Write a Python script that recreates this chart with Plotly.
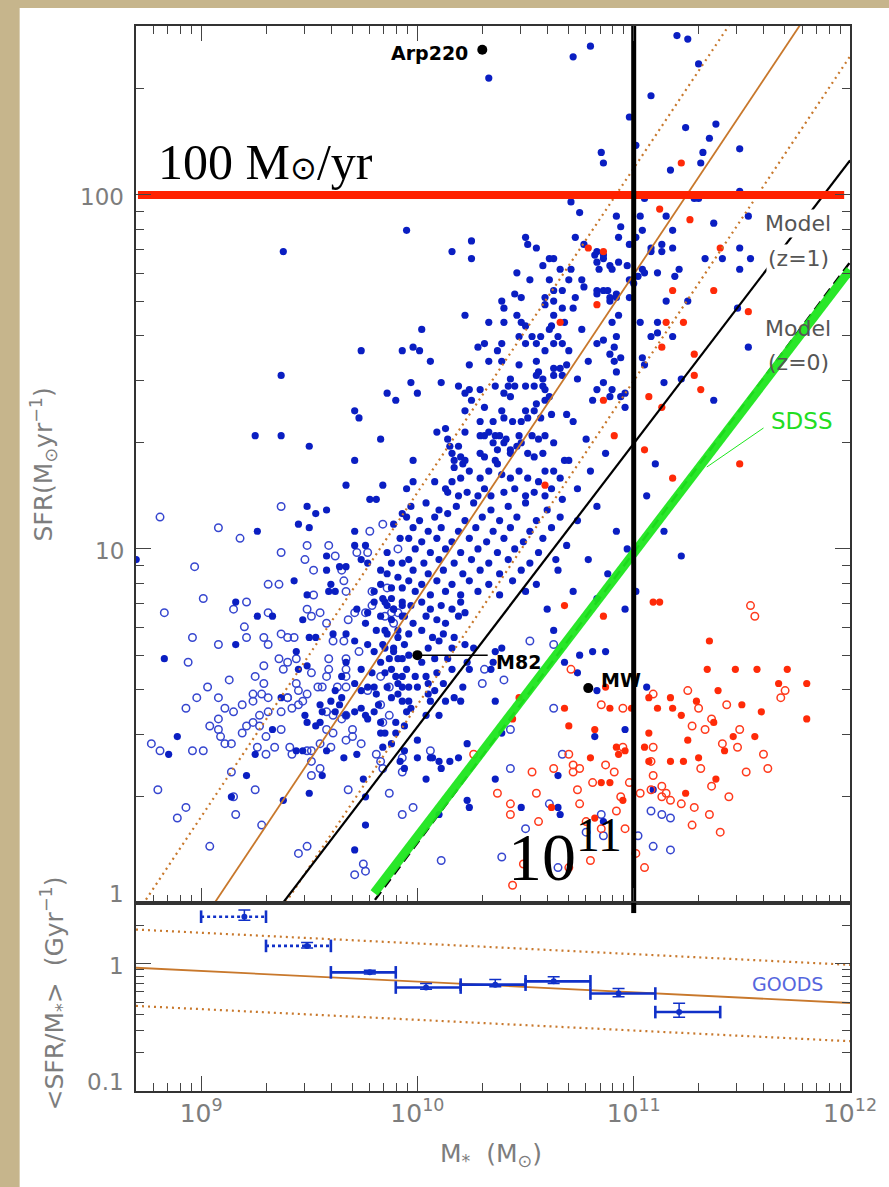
import math
import plotly.graph_objects as go

# ------------------------------------------------------------------
# Galaxy sample: (log10 M* [Msun], log10 SFR [Msun/yr])
# ------------------------------------------------------------------
blue_solid = [
    (9.25, 1.32), (9.37, 1.32), (9.50, 1.29), (9.83, 1.31), (9.71, 1.25), (9.67, 1.18), (9.84, 1.18),
    (9.78, 1.14), (9.81, 1.14), (9.49, 1.12), (9.58, 1.11), (9.53, 1.10), (9.45, 1.07), (9.50, 1.06),
    (9.26, 1.05), (9.71, 1.05), (8.70, 0.97), (9.58, 0.98), (9.58, 0.94), (9.64, 0.95), (9.67, 0.95),
    (9.43, 0.91), (9.60, 0.90), (9.49, 0.87), (9.59, 0.88), (9.62, 0.88), (9.16, 0.85), (9.26, 0.81),
    (9.33, 0.81), (9.47, 0.80), (9.16, 0.73), (9.44, 0.71), (8.83, 0.69), (9.50, 0.75), (9.53, 0.75),
    (9.61, 0.76), (9.45, 0.66), (9.37, 0.58), (9.49, 0.67), (9.65, 0.64),
    (9.71, 1.01), (9.76, 1.01), (9.74, 0.97), (9.77, 0.96), (9.86, 0.99), (9.88, 0.96), (9.93, 0.96),
    (9.92, 1.03), (9.89, 1.07), (9.93, 1.10), (9.83, 0.94), (9.86, 0.93), (9.91, 0.92), (9.83, 0.90),
    (9.88, 0.89), (9.93, 0.89), (9.80, 0.88), (9.84, 0.86), (9.88, 0.86), (9.93, 0.85), (9.72, 0.83),
    (9.77, 0.82), (9.80, 0.85), (9.86, 0.84), (9.89, 0.83), (9.93, 0.81), (9.76, 0.79), (9.81, 0.77),
    (9.86, 0.76), (9.91, 0.75), (9.67, 0.76), (9.71, 0.74), (9.77, 0.73), (9.80, 0.71), (9.85, 0.72),
    (9.89, 0.71), (9.93, 0.69), (9.67, 0.68), (9.74, 0.66), (9.79, 0.65), (9.83, 0.68), (9.88, 0.66),
    (9.93, 0.64), (9.71, 0.62), (9.77, 0.61), (9.81, 0.59), (9.88, 0.58), (9.65, 0.58), (9.62, 0.60),
    (9.60, 0.57),
    (8.89, 0.47), (8.85, 0.42), (9.21, 0.36), (9.14, 0.30), (9.25, 0.42), (9.33, 0.49), (9.38, 0.29),
    (9.48, 0.53), (9.49, 0.51), (9.53, 0.50), (9.55, 0.51), (9.55, 0.56), (9.56, 0.54), (9.62, 0.54),
    (9.64, 0.56), (9.67, 0.53), (9.71, 0.54), (9.74, 0.55), (9.76, 0.53), (9.77, 0.52), (9.80, 0.54),
    (9.82, 0.56), (9.44, 0.43), (9.47, 0.43), (9.58, 0.43), (9.56, 0.36), (9.50, 0.31), (9.66, 0.41),
    (9.72, 0.42), (9.75, 0.35), (9.76, 0.30), (9.76, 0.22), (9.71, 0.15), (9.83, 0.48), (9.84, 0.44),
    (9.88, 0.45), (9.90, 0.48), (9.94, 0.50), (9.94, 0.43), (10.00, 0.41), (10.00, 0.46), (10.04, 0.35),
    (10.07, 0.41), (9.93, 0.61), (9.93, 0.57), (9.95, 0.54), (9.97, 0.55), (9.80, 0.61), (9.74, 0.60),
    (10.05, 0.59), (10.05, 0.62),
    (9.95, 1.90), (10.25, 1.87), (10.16, 1.84), (10.25, 1.82), (10.50, 1.88), (10.51, 1.86), (10.55, 1.85),
    (10.61, 1.82), (10.63, 1.82), (10.58, 1.80), (10.66, 1.79), (10.46, 1.78), (10.52, 1.76), (10.61, 1.76),
    (10.63, 1.73), (10.45, 1.72), (10.48, 1.71), (10.59, 1.71), (10.63, 1.70), (10.39, 1.70), (10.40, 1.68),
    (10.59, 1.69), (10.67, 1.68), (10.22, 1.66), (10.33, 1.64), (10.40, 1.64), (10.46, 1.66), (10.48, 1.64),
    (10.50, 1.63), (10.63, 1.66), (10.62, 1.63), (10.68, 1.64), (10.02, 1.62), (10.47, 1.60), (10.53, 1.60),
    (10.57, 1.60), (10.61, 1.62), (10.65, 1.60), (10.67, 1.58), (10.63, 1.58), (10.28, 1.57), (10.31, 1.58),
    (10.39, 1.58), (10.37, 1.56), (10.50, 1.58), (10.55, 1.58), (10.59, 1.56), (9.74, 1.56), (9.93, 1.56),
    (9.98, 1.57), (10.01, 1.56), (10.06, 1.53), (10.24, 1.52), (10.33, 1.53), (10.39, 1.53), (10.47, 1.52),
    (10.55, 1.53), (10.63, 1.51), (10.66, 1.51), (10.56, 1.50), (10.55, 1.49), (10.58, 1.48), (10.54, 1.46),
    (10.58, 1.46), (10.59, 1.45), (10.63, 1.49), (10.67, 1.49), (10.69, 1.52), (9.97, 1.47), (10.11, 1.47),
    (10.19, 1.46), (10.29, 1.45), (10.36, 1.46), (10.43, 1.48), (10.42, 1.46), (10.45, 1.46), (10.40, 1.44),
    (10.50, 1.46), (9.86, 1.44), (10.00, 1.44), (9.90, 1.42), (10.24, 1.45), (10.22, 1.44), (10.25, 1.42),
    (10.31, 1.40), (10.43, 1.43), (10.59, 1.42), (10.61, 1.43), (10.55, 1.41), (10.54, 1.39), (10.69, 1.38),
    (9.71, 1.39), (9.73, 1.37), (10.22, 1.39), (10.29, 1.36), (10.35, 1.36), (10.39, 1.39), (10.40, 1.37),
    (10.44, 1.36), (10.48, 1.36), (10.50, 1.39), (10.51, 1.37), (10.57, 1.37), (10.62, 1.38),
    (9.95, 1.17), (9.98, 1.25), (9.98, 1.19), (10.09, 1.33), (10.14, 1.31), (10.13, 1.34), (10.15, 1.29),
    (10.16, 1.27), (10.19, 1.29), (10.20, 1.26), (10.17, 1.25), (10.22, 1.25), (10.21, 1.24), (10.22, 1.33),
    (10.29, 1.32), (10.31, 1.32), (10.33, 1.33), (10.36, 1.32), (10.38, 1.32), (10.41, 1.31), (10.47, 1.32),
    (10.35, 1.30), (10.37, 1.28), (10.40, 1.30), (10.43, 1.28), (10.46, 1.29), (10.48, 1.30), (10.53, 1.32),
    (10.56, 1.31), (10.59, 1.32), (10.63, 1.30), (10.29, 1.27), (10.31, 1.26), (10.36, 1.25), (10.43, 1.27),
    (10.51, 1.27), (10.54, 1.26), (10.58, 1.27), (10.17, 1.23), (10.20, 1.20), (10.24, 1.22), (10.29, 1.20),
    (10.33, 1.22), (10.37, 1.24), (10.39, 1.21), (10.43, 1.20), (10.47, 1.22), (10.51, 1.20), (10.56, 1.19),
    (10.59, 1.22), (10.63, 1.22), (10.66, 1.20), (10.68, 1.25), (10.08, 1.19), (10.13, 1.17), (10.16, 1.19),
    (10.14, 1.16), (10.19, 1.15), (10.23, 1.16), (10.28, 1.15), (10.31, 1.17), (10.34, 1.15), (10.40, 1.16),
    (10.45, 1.17), (10.50, 1.15), (10.54, 1.16), (10.62, 1.17), (10.59, 1.15),
    (10.80, 2.42), (10.72, 2.39), (10.33, 2.33), (11.08, 2.28), (10.98, 2.22), (11.01, 2.14), (10.85, 2.12),
    (10.86, 2.09), (10.71, 1.98), (10.75, 1.95), (11.05, 1.99), (10.92, 1.94), (10.94, 1.91), (11.03, 1.94),
    (11.04, 1.90), (10.93, 1.88), (10.98, 1.86), (11.01, 1.88), (10.73, 1.88), (10.77, 1.86), (10.82, 1.83),
    (10.86, 1.83), (10.89, 1.80), (10.90, 1.79), (10.83, 1.81), (10.84, 1.79), (10.93, 1.81), (10.97, 1.80),
    (11.04, 1.79), (11.05, 1.78), (11.11, 1.78), (11.08, 1.84), (11.13, 1.84), (11.13, 1.86), (10.71, 1.79),
    (10.70, 1.76), (10.76, 1.76), (10.77, 1.74), (10.98, 1.76), (11.02, 1.77), (11.00, 1.75), (10.83, 1.73),
    (10.86, 1.73), (10.88, 1.73), (10.89, 1.71), (10.92, 1.71), (10.98, 1.71), (10.67, 1.73), (10.73, 1.71),
    (11.20, 2.45), (11.25, 2.44), (11.30, 2.37), (11.24, 2.19), (11.38, 2.20), (11.35, 2.16), (11.32, 2.12),
    (11.31, 2.09), (11.49, 2.13), (11.17, 2.07), (11.28, 1.99), (11.30, 1.99), (11.49, 2.01), (11.53, 1.94),
    (11.15, 1.94), (11.18, 1.90), (11.37, 1.92), (11.08, 1.85), (11.18, 1.85), (11.49, 1.85),
    (11.33, 1.82), (11.41, 1.82), (11.54, 1.82), (11.49, 1.79), (11.21, 1.79), (11.19, 1.77), (10.83, 1.84),
    (10.86, 1.82), (10.92, 1.72), (10.83, 1.72), (11.15, 1.70), (11.25, 1.70), (11.48, 1.68), (11.53, 1.57),
    (10.89, 1.70), (10.90, 1.64), (10.93, 1.66), (11.03, 1.64), (11.11, 1.64), (11.11, 1.61), (11.08, 1.60),
    (11.18, 1.60), (10.83, 1.58), (10.86, 1.59), (10.91, 1.57), (10.92, 1.60), (10.89, 1.55), (10.91, 1.53),
    (10.94, 1.54), (10.92, 1.50), (11.04, 1.54), (11.05, 1.52), (11.14, 1.47), (11.22, 1.48), (10.83, 1.45),
    (10.86, 1.47), (10.90, 1.45), (10.89, 1.43), (10.94, 1.43), (10.96, 1.44), (10.96, 1.40), (11.37, 1.42),
    (10.87, 1.27),
    (10.60, 0.83), (10.63, 0.77), (10.75, 0.70), (10.81, 0.71), (10.87, 0.71), (10.96, 0.83), (10.74, 0.65),
    (10.83, 0.60), (10.68, 0.68), (10.36, 0.57), (10.26, 0.72), (10.22, 0.73), (10.16, 0.72), (10.14, 0.69),
    (10.16, 0.66), (10.24, 0.66), (10.23, 0.68), (10.36, 0.71), (10.39, 0.72), (10.35, 0.68), (10.34, 0.66),
    (10.21, 0.61), (10.17, 0.58), (10.13, 0.57), (10.20, 0.57), (10.06, 0.57), (10.12, 0.62), (10.00, 0.61),
    (10.08, 0.60), (9.96, 0.57), (9.91, 0.59), (10.10, 0.53), (10.04, 0.53), (9.90, 0.51), (9.85, 0.48),
    (9.83, 0.51), (10.23, 0.45), (10.19, 0.41), (10.15, 0.40), (10.11, 0.38), (10.10, 0.40), (10.06, 0.41),
    (9.94, 0.38), (9.92, 0.40), (10.23, 0.29), (10.24, 0.27), (10.36, 0.35), (10.39, 0.48), (10.65, 0.36),
    (10.65, 0.27), (10.66, 0.25), (10.48, 0.27), (10.82, 0.47), (10.96, 0.49), (10.86, 0.23), (11.06, 0.61),
    (11.09, 0.32), (10.10, 0.25),
    (9.85, 0.85), (9.89, 0.83), (9.93, 0.84), (9.97, 0.84), (10.02, 0.85), (10.06, 0.83), (10.11, 0.84),
    (10.16, 0.83), (10.20, 0.85), (9.83, 0.81), (9.88, 0.80), (9.94, 0.81), (9.98, 0.79), (10.04, 0.81),
    (10.09, 0.80), (10.13, 0.79), (10.19, 0.81), (10.22, 0.82), (9.85, 0.77), (9.91, 0.77), (9.96, 0.76),
    (10.02, 0.77), (10.07, 0.75), (10.12, 0.76), (10.17, 0.75), (9.84, 0.73), (9.89, 0.72), (9.94, 0.73),
    (10.05, 0.72), (10.10, 0.74), (9.87, 0.69), (9.91, 0.69), (9.96, 0.70), (10.02, 0.68), (10.08, 0.69),
    (9.85, 0.65), (9.90, 0.64), (9.95, 0.66), (9.99, 0.64), (10.04, 0.64), (10.09, 0.65), (9.86, 0.61),
    (9.91, 0.62), (9.96, 0.61),
    (9.97, 1.12), (10.04, 1.13), (10.10, 1.11), (10.18, 1.12), (10.26, 1.13), (10.34, 1.11), (10.42, 1.12),
    (10.50, 1.13), (10.60, 1.11), (9.95, 1.09), (10.01, 1.08), (10.08, 1.09), (10.14, 1.10), (10.22, 1.08),
    (10.30, 1.09), (10.38, 1.08), (10.46, 1.09), (10.55, 1.08), (10.66, 1.09), (9.98, 1.06), (10.05, 1.05),
    (10.11, 1.06), (10.19, 1.05), (10.27, 1.06), (10.35, 1.05), (10.43, 1.06), (10.52, 1.05), (10.62, 1.06),
    (9.96, 1.03), (10.02, 1.02), (10.09, 1.03), (10.16, 1.02), (10.24, 1.03), (10.32, 1.02), (10.40, 1.03),
    (10.49, 1.02), (10.58, 1.03), (9.99, 1.00), (10.06, 0.99), (10.13, 1.00), (10.20, 0.99), (10.28, 1.00),
    (10.37, 0.99), (10.45, 1.00), (10.56, 0.99), (9.96, 0.97), (10.03, 0.96), (10.10, 0.97), (10.17, 0.96),
    (10.25, 0.97), (10.33, 0.96), (10.42, 0.97), (10.52, 0.96), (10.64, 0.97), (9.98, 0.94), (10.05, 0.93),
    (10.12, 0.94), (10.21, 0.93), (10.29, 0.94), (10.38, 0.93), (10.48, 0.94), (9.96, 0.91), (10.02, 0.90),
    (10.09, 0.91), (10.16, 0.90), (10.24, 0.91), (10.33, 0.90), (10.44, 0.91), (10.55, 0.90), (9.99, 0.88),
    (10.06, 0.87), (10.13, 0.88), (10.20, 0.87), (10.28, 0.88), (10.38, 0.87), (10.50, 0.88),
    (10.72, 1.68), (10.76, 1.62), (10.70, 1.56), (10.79, 1.53), (10.74, 1.48), (10.81, 1.42), (10.72, 1.36),
    (10.78, 1.31), (10.70, 1.25), (10.80, 1.22), (10.74, 1.17), (10.67, 1.14), (10.74, 1.08), (10.83, 1.12),
    (10.92, 1.05), (10.69, 1.01), (10.79, 0.97), (10.88, 0.93), (10.97, 1.00), (11.01, 0.88), (10.72, 0.88),
    (10.83, 0.86), (10.65, 0.94), (11.06, 1.15), (11.14, 1.05), (11.22, 0.98), (11.10, 1.24),
    (9.38, 1.84), (9.37, 1.49),
]

blue_open = [
    (8.81, 1.09), (9.08, 1.06), (9.18, 1.03), (9.37, 1.12), (9.49, 1.01), (9.37, 0.99), (8.97, 0.95),
    (9.48, 0.97), (9.52, 0.94), (9.62, 0.98), (9.59, 1.01), (9.31, 0.90), (9.36, 0.90), (9.01, 0.86),
    (8.83, 0.82), (9.15, 0.83), (9.21, 0.85), (9.31, 0.82), (9.49, 0.83), (9.52, 0.87), (9.51, 0.81),
    (9.55, 0.82), (9.20, 0.78), (9.21, 0.75), (9.29, 0.75), (9.31, 0.73), (8.96, 0.75), (9.08, 0.73),
    (9.37, 0.76), (9.40, 0.75), (9.43, 0.75), (8.94, 0.68), (9.29, 0.67), (9.36, 0.69), (9.40, 0.68),
    (9.44, 0.69), (9.38, 0.66), (9.13, 0.63), (9.25, 0.64), (9.29, 0.62), (9.03, 0.61), (8.98, 0.58),
    (9.08, 0.58), (9.24, 0.59), (9.28, 0.59), (9.44, 0.62), (9.45, 0.60), (9.49, 0.59), (9.40, 0.58),
    (9.58, 0.79), (9.61, 0.74), (9.66, 0.74), (9.59, 0.69), (9.59, 0.66), (9.58, 0.64), (9.56, 0.61),
    (9.51, 0.65), (9.67, 0.69), (9.67, 0.66), (9.67, 0.64), (9.72, 0.99), (9.77, 0.99), (9.78, 1.05),
    (9.84, 1.07), (9.65, 0.94), (9.66, 0.91), (9.67, 0.88), (9.73, 0.71), (9.68, 0.80), (9.71, 0.82),
    (9.76, 0.82), (9.79, 0.84), (9.79, 0.88), (9.86, 0.89), (9.85, 0.81), (9.88, 0.82), (9.91, 0.82),
    (9.91, 1.00), (9.89, 0.79), (9.77, 0.60), (9.83, 0.64), (9.87, 0.61),
    (8.77, 0.45), (8.81, 0.43), (8.80, 0.32), (8.89, 0.24), (8.93, 0.27), (8.93, 0.55), (8.96, 0.43),
    (9.01, 0.43), (9.04, 0.50), (9.08, 0.52), (9.08, 0.49), (9.09, 0.47), (9.11, 0.55), (9.15, 0.54),
    (9.19, 0.56), (9.11, 0.45), (9.14, 0.45), (9.19, 0.48), (9.21, 0.50), (9.24, 0.51), (9.24, 0.57),
    (9.31, 0.58), (9.27, 0.53), (9.27, 0.50), (9.31, 0.54), (9.30, 0.47), (9.34, 0.44), (9.30, 0.42),
    (9.26, 0.44), (9.37, 0.54), (9.37, 0.49), (9.40, 0.58), (9.42, 0.55), (9.45, 0.56), (9.47, 0.57),
    (9.41, 0.44), (9.42, 0.42), (9.49, 0.43), (9.14, 0.37), (9.15, 0.30), (9.16, 0.25), (9.25, 0.32),
    (9.28, 0.22), (9.04, 0.16), (9.45, 0.14), (9.49, 0.16), (9.51, 0.40), (9.51, 0.36), (9.55, 0.38),
    (9.51, 0.43), (9.58, 0.49), (9.61, 0.48), (9.55, 0.45), (9.60, 0.44), (9.67, 0.46), (9.70, 0.47),
    (9.74, 0.45), (9.68, 0.32), (9.81, 0.42), (9.83, 0.40), (9.84, 0.38), (9.87, 0.31), (9.93, 0.37),
    (9.93, 0.25), (9.98, 0.27), (9.93, 0.41), (9.71, 0.08), (9.75, 0.11), (9.76, 0.09), (9.83, 0.56),
    (9.87, 0.53), (9.84, 0.51), (9.70, 0.49), (9.65, 0.52), (9.67, 0.53), (9.61, 0.53), (9.58, 0.54),
    (9.63, 0.61), (9.67, 0.61), (9.54, 0.61),
    (10.52, 0.74), (10.63, 0.73), (10.31, 0.66), (10.40, 0.63), (10.30, 0.62), (10.63, 0.55), (10.43, 0.49),
    (10.67, 0.42), (10.43, 0.38), (10.06, 0.43), (10.61, 0.28), (10.50, 0.21), (10.39, 0.13), (10.11, 0.12),
    (10.85, 0.25), (10.86, 0.19), (10.78, 0.20), (11.02, 0.19), (11.08, 0.26), (11.13, 0.25), (11.17, 0.24),
    (11.09, 0.16), (11.17, 0.15), (10.65, 0.10),
]

red_solid = [
    (10.66, 1.64), (10.59, 1.18), (10.79, 1.85), (10.86, 1.84), (11.12, 1.96), (11.22, 2.09), (11.26, 1.93),
    (11.40, 1.85), (11.18, 1.73), (11.37, 1.73), (10.83, 1.69), (11.53, 1.67), (11.15, 1.64), (11.23, 1.64),
    (11.13, 1.57), (11.28, 1.55), (11.28, 1.49), (11.31, 1.45), (10.86, 1.42), (11.07, 1.43), (11.13, 1.40),
    (10.91, 1.32), (11.05, 1.28), (11.49, 1.24), (11.18, 1.20),
    (10.68, 0.84), (10.86, 0.81), (10.87, 0.61), (11.09, 0.85), (11.12, 0.85), (10.89, 0.55), (10.99, 0.55),
    (10.68, 0.55), (10.70, 0.50), (10.82, 0.49), (11.07, 0.58), (11.11, 0.55), (11.17, 0.58), (11.18, 0.55),
    (10.92, 0.44), (10.93, 0.42), (10.96, 0.43), (11.05, 0.44), (10.80, 0.41), (11.07, 0.48), (11.07, 0.40),
    (11.17, 0.40), (10.85, 0.34), (10.89, 0.34), (10.95, 0.29), (10.62, 0.27), (10.82, 0.24), (10.47, 0.58),
    (10.44, 0.52),
    (11.35, 0.74), (11.34, 0.66), (11.47, 0.66), (11.57, 0.66), (11.71, 0.66), (11.80, 0.62), (11.67, 0.62),
    (11.39, 0.60), (11.29, 0.57), (11.50, 0.56), (11.59, 0.54), (11.80, 0.52), (11.22, 0.53), (11.37, 0.51),
    (11.46, 0.47), (11.56, 0.47), (11.25, 0.46), (11.30, 0.41), (11.42, 0.43), (11.23, 0.40), (11.24, 0.31),
    (11.38, 0.35),
]

red_open = [
    (10.26, 0.42), (10.71, 0.66), (10.85, 0.56), (10.95, 0.55), (10.95, 0.44), (10.70, 0.42), (10.72, 0.39),
    (10.72, 0.37), (10.75, 0.38), (10.87, 0.39), (10.91, 0.37), (10.63, 0.38), (10.53, 0.37), (10.74, 0.32),
    (10.81, 0.34), (10.98, 0.34), (10.94, 0.30), (11.03, 0.31), (11.08, 0.32), (11.09, 0.44), (11.09, 0.36),
    (11.08, 0.40), (11.13, 0.33), (11.15, 0.31), (11.17, 0.29), (11.13, 0.30), (11.09, 0.59), (10.43, 0.28),
    (10.43, 0.25), (10.55, 0.31), (10.37, 0.31), (10.75, 0.28), (10.56, 0.23), (10.78, 0.23), (10.92, 0.26),
    (10.96, 0.21), (10.85, 0.21), (11.05, 0.10), (11.01, 0.14), (10.80, 0.12), (10.44, 0.05), (10.49, 0.11),
    (10.70, 0.10),
    (11.54, 0.84), (11.56, 0.81), (11.25, 0.60), (11.30, 0.55), (11.36, 0.52), (11.43, 0.56), (11.49, 0.49),
    (11.27, 0.50), (11.33, 0.49), (11.41, 0.45), (11.48, 0.44), (11.31, 0.38), (11.36, 0.33), (11.44, 0.30),
    (11.28, 0.27), (11.35, 0.25), (11.22, 0.28), (11.52, 0.37), (11.60, 0.42), (11.70, 0.60), (11.68, 0.58),
    (11.62, 0.38), (11.40, 0.20), (11.27, 0.22),
]

# Reference galaxies
named_gal = ["Arp220", "M82", "MW"]
named_logm = [10.30, 10.00, 10.79]
named_logsfr = [2.41, 0.70, 0.607]

# GOODS binned specific SFR (Gyr^-1)
goods_bin_lo = [9.0, 9.3, 9.6, 9.9, 10.2, 10.5, 10.8, 11.1]
goods_bin_hi = [9.3, 9.6, 9.9, 10.2, 10.5, 10.8, 11.1, 11.4]
goods_logm = [9.20, 9.49, 9.78, 10.04, 10.36, 10.63, 10.93, 11.21]
goods_ssfr = [2.34, 1.38, 0.855, 0.65, 0.685, 0.727, 0.583, 0.417]
goods_ssfr_hi = [2.64, 1.47, 0.89, 0.70, 0.75, 0.79, 0.64, 0.49]
goods_ssfr_lo = [2.20, 1.33, 0.83, 0.63, 0.66, 0.70, 0.55, 0.38]
goods_incomplete = [True, True, False, False, False, False, False, False]

# Relations: log SFR = slope * (log M - log M at SFR = 1)
fit_slope, fit_m0, fit_scatter = 0.916, 9.062, 0.3
model_z1_slope, model_z1_m0 = 0.80, 9.378
model_z0_slope, model_z0_m0 = 0.82, 9.793
sdss_slope, sdss_m0, sdss_mrange = 0.80, 9.765, (9.80, 12.0)

sfr_threshold = 100.0      # Msun/yr
mass_threshold = 1e11      # Msun

# Axis ticks
sfr_ticks = [1, 10, 100]
ssfr_ticks = [0.1, 1]

# ------------------------------------------------------------------
W, H = 889, 1187
ML, MR, MT, MB = 136, 35, 26, 96
PW, PH = W - ML - MR, H - MT - MB
LOWER_FRAC = 188 / PH


def fx(p):
    return (p - ML) / PW


def fy(p):
    return (H - MB - p) / PH


XR = [8.699, 12.0]
YR_TOP = [0, 2.477]
YR_BOT = [-1, 0.477]
BLUE, BLUE_OPEN = "#0a1ec2", "#3646cf"
RED, RED_OPEN = "#ff2a08", "#ff3a1c"
ORANGE = "#c8782c"
GREEN = "#1ee61e"
TICK_GRAY = "#7d7d7d"


def line_sfr(slope, m0, logm):
    return 10 ** (slope * (logm - m0))


fig = go.Figure()


def scatter_pts(pts, color, open_marker, name):
    fig.add_trace(go.Scatter(
        x=[10 ** m for m, s in pts], y=[10 ** s for m, s in pts], mode="markers",
        marker=dict(symbol="circle-open" if open_marker else "circle", size=7.5 if open_marker else 7.2,
                    color=color, line=dict(width=1.5 if open_marker else 0, color=color)),
        name=name, showlegend=False, xaxis="x", yaxis="y"))


scatter_pts(blue_open, BLUE_OPEN, True, "blue open")
scatter_pts(blue_solid, BLUE, False, "blue")
scatter_pts(red_open, RED_OPEN, True, "red open")
scatter_pts(red_solid, RED, False, "red")

# Orange best fit and +/- scatter, upper panel
lm_ends = [XR[0], XR[1]]
for off, dash, w in [(0, None, 1.8), (fit_scatter, "2px,4px", 2.2), (-fit_scatter, "2px,4px", 2.2)]:
    fig.add_trace(go.Scatter(
        x=[10 ** m for m in lm_ends],
        y=[line_sfr(fit_slope, fit_m0, m) * 10 ** off for m in lm_ends],
        mode="lines", line=dict(color=ORANGE, width=w, dash=dash), showlegend=False,
        xaxis="x", yaxis="y"))

# Model lines
fig.add_trace(go.Scatter(
    x=[10 ** m for m in lm_ends], y=[line_sfr(model_z1_slope, model_z1_m0, m) for m in lm_ends],
    mode="lines", line=dict(color="black", width=2.2), showlegend=False, xaxis="x", yaxis="y"))
fig.add_trace(go.Scatter(
    x=[10 ** m for m in lm_ends], y=[line_sfr(model_z0_slope, model_z0_m0, m) for m in lm_ends],
    mode="lines", line=dict(color="black", width=2.4, dash="10px,6px"), showlegend=False,
    xaxis="x", yaxis="y"))
fig.add_trace(go.Scatter(
    x=[10 ** m for m in sdss_mrange], y=[line_sfr(sdss_slope, sdss_m0, m) for m in sdss_mrange],
    mode="lines", line=dict(color=GREEN, width=9), opacity=0.95, showlegend=False,
    xaxis="x", yaxis="y"))

# Reference galaxies
fig.add_trace(go.Scatter(
    x=[10 ** named_logm[1], 10 ** (named_logm[1] + 0.325)], y=[10 ** named_logsfr[1]] * 2,
    mode="lines", line=dict(color="black", width=1.5), showlegend=False, xaxis="x", yaxis="y"))
fig.add_trace(go.Scatter(
    x=[10 ** m for m in named_logm], y=[10 ** s for s in named_logsfr], mode="markers",
    marker=dict(color="black", size=10), showlegend=False, xaxis="x", yaxis="y"))

# Threshold lines
fig.add_trace(go.Scatter(
    x=[10 ** 8.708, 10 ** 11.973], y=[sfr_threshold, sfr_threshold], mode="lines",
    line=dict(color="#ff2200", width=8), showlegend=False, xaxis="x", yaxis="y"))
fig.add_trace(go.Scatter(
    x=[mass_threshold, mass_threshold], y=[1, 300], mode="lines",
    line=dict(color="black", width=5), showlegend=False, xaxis="x", yaxis="y"))
fig.add_trace(go.Scatter(
    x=[mass_threshold, mass_threshold], y=[3, 2.5], mode="lines",
    line=dict(color="black", width=5), showlegend=False, xaxis="x2", yaxis="y2"))

# ---- lower panel: specific SFR ----
for off, dash, w in [(0, None, 1.8), (fit_scatter, "2px,4px", 2.2), (-fit_scatter, "2px,4px", 2.2)]:
    fig.add_trace(go.Scatter(
        x=[10 ** m for m in lm_ends],
        y=[line_sfr(fit_slope, fit_m0, m) * 10 ** off / 10 ** m * 1e9 for m in lm_ends],
        mode="lines", line=dict(color=ORANGE, width=w, dash=dash), showlegend=False,
        xaxis="x2", yaxis="y2"))

for incomplete in (True, False):
    bx, by, cx, cy = [], [], [], []
    for lo, hi, v, inc in zip(goods_bin_lo, goods_bin_hi, goods_ssfr, goods_incomplete):
        if inc != incomplete:
            continue
        bx += [10 ** lo, 10 ** hi, None]
        by += [v, v, None]
        cx += [10 ** lo, 10 ** hi]
        cy += [v, v]
    fig.add_trace(go.Scatter(
        x=bx, y=by, mode="lines",
        line=dict(color="#1030c8", width=2.6, dash="3px,3px" if incomplete else None),
        showlegend=False, xaxis="x2", yaxis="y2"))
    fig.add_trace(go.Scatter(
        x=cx, y=cy, mode="markers",
        marker=dict(symbol="line-ns", size=9, line=dict(color="#1030c8", width=2.6)),
        showlegend=False, xaxis="x2", yaxis="y2"))

fig.add_trace(go.Scatter(
    x=[10 ** m for m in goods_logm], y=goods_ssfr, mode="markers",
    marker=dict(color="#1030c8", size=6),
    error_y=dict(type="data", symmetric=False,
                 array=[h - v for h, v in zip(goods_ssfr_hi, goods_ssfr)],
                 arrayminus=[v - l for v, l in zip(goods_ssfr, goods_ssfr_lo)],
                 color="#1030c8", thickness=1.5, width=6),
    showlegend=False, xaxis="x2", yaxis="y2"))

# ---- axes ----
axis_common = dict(type="log", showgrid=False, zeroline=False, showline=True, linecolor="#333",
                   linewidth=1.5, ticks="inside", ticklen=15, tickwidth=1.3, tickcolor="#444",
                   minor=dict(ticks="inside", ticklen=8, tickwidth=1.2, tickcolor="#444", dtick="D1",
                              showgrid=False),
                   tickfont=dict(family="DejaVu Sans", size=23, color=TICK_GRAY), dtick=1)

fig.update_layout(
    width=W, height=H, autosize=False,
    margin=dict(l=ML, r=MR, t=MT, b=MB),
    paper_bgcolor="#c6b58c", plot_bgcolor="white",
    showlegend=False,
    xaxis=dict(axis_common, range=XR, anchor="y", mirror="ticks", showticklabels=False),
    yaxis=dict(axis_common, range=YR_TOP, domain=[LOWER_FRAC, 1], anchor="x", mirror="ticks",
               showticklabels=False),
    xaxis2=dict(axis_common, range=XR, anchor="y2", mirror=True, exponentformat="power",
                tickfont=dict(family="DejaVu Sans", size=20, color=TICK_GRAY)),
    yaxis2=dict(axis_common, range=YR_BOT, domain=[0, LOWER_FRAC], anchor="x2", mirror="ticks",
                showticklabels=False),
)

# white page behind the plot
fig.add_shape(type="rect", xref="paper", yref="paper", x0=fx(19), x1=fx(895), y0=fy(8), y1=fy(1195),
              fillcolor="white", line=dict(width=0), layer="below")
# SDSS pointer
fig.add_shape(type="line", xref="paper", yref="paper", x0=fx(710), y0=fy(467), x1=fx(767), y1=fy(428),
              line=dict(color=GREEN, width=1))

ann = []

# y tick labels; the lowest label of each panel sits just above the frame
for ticks, yref, yr in [(sfr_ticks, "y", YR_TOP), (ssfr_ticks, "y2", YR_BOT)]:
    for v in ticks:
        lv = math.log10(v)
        ann.append(dict(x=0, xref="paper", y=lv, yref=yref, text=f"{v:g}", showarrow=False,
                        xanchor="right", yanchor="middle", xshift=-10,
                        yshift=9 if abs(lv - yr[0]) < 1e-6 else -2,
                        font=dict(family="DejaVu Sans", size=23, color=TICK_GRAY)))


def text(x, y, s, size, color="black", family="DejaVu Sans", xanchor="center", yanchor="middle",
         angle=0, bg=None):
    d = dict(x=fx(x), y=fy(y), xref="paper", yref="paper", text=s, showarrow=False,
             font=dict(family=family, size=size, color=color), xanchor=xanchor, yanchor=yanchor,
             textangle=angle)
    if bg:
        d["bgcolor"] = bg
    ann.append(d)


text(43, 465, "SFR(M<sub>⊙</sub>yr<sup>−1</sup>)", 25, TICK_GRAY, angle=-90)
text(54, 993, "&lt;SFR/M<sub>*</sub>&gt;  (Gyr<sup>−1</sup>)", 25, TICK_GRAY, angle=-90)
text(493, 1155, "M<sub>*</sub>  (M<sub>⊙</sub>)", 25, TICK_GRAY)

text(156, 162, "100 M<span style=\"font-size:32px\">⊙</span>/yr", 50, "black", "Liberation Serif",
     xanchor="left")
text(508, 852, "10<sup>11</sup>", 68, "black", "Liberation Serif", xanchor="left")

text(472, 53, "<b>Arp220</b>", 19, xanchor="right")
text(496, 662, "<b>M82</b>", 19, xanchor="left")
text(602, 680, "<b>MW</b>", 19, xanchor="left")

text(802, 224, "Model", 22, "#555555", bg="white")
text(802, 258, "(z=1)", 22, "#555555", bg="white")
text(802, 328, "Model", 22, "#555555")
text(802, 362, "(z=0)", 22, "#555555")
text(806, 421, "SDSS", 23, "#22dd22")
text(791, 984, "GOODS", 19, "#5566dd")

fig.update_layout(annotations=ann)

fig.write_html("out.html")
